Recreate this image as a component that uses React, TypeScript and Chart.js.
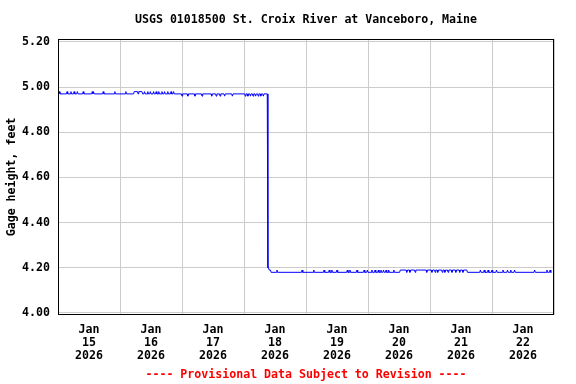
import React, { useEffect, useRef } from 'react';
import { Chart, registerables } from 'chart.js';

Chart.register(...registerables);

// ---- text ----
const TITLE = 'USGS 01018500 St. Croix River at Vanceboro, Maine';
const Y_TITLE = 'Gage height, feet';
const FOOTER = '---- Provisional Data Subject to Revision ----';
const MONTH = 'Jan';
const YEAR = '2026';
const DAY_LABELS = ['15', '16', '17', '18', '19', '20', '21', '22'];

// ---- axes ----
const Y_TICKS = [4.0, 4.2, 4.4, 4.6, 4.8, 5.0, 5.2];
const X_TICK_HOURS = [0, 12, 24, 36, 48, 60, 72, 84, 96, 108, 120, 132, 144, 156, 168, 180, 192];
const Y_MIN = 3.991;
const Y_MAX = 5.2134;
const X_MIN = 0;
const X_MAX = 192;

// ---- data: [hours since Jan 15 00:00, gage height ft] ----
const readingsJan15_16: [number, number][] = [
  [0, 4.97], [0.25, 4.97], [0.5, 4.98], [0.75, 4.97],
  [3.25, 4.97], [3.5, 4.98], [3.75, 4.97],
  [4.75, 4.97], [5, 4.98], [5.25, 4.97],
  [6, 4.97], [6.25, 4.98], [6.5, 4.97],
  [7.25, 4.97], [7.5, 4.98], [7.75, 4.97],
  [9.5, 4.97], [9.75, 4.98], [10, 4.97],
  [13, 4.97], [13.25, 4.98], [13.5, 4.97], [13.75, 4.98], [14, 4.97],
  [17.25, 4.97], [17.5, 4.98], [17.75, 4.97],
  [21.75, 4.97], [22, 4.98], [22.25, 4.97],
  [26, 4.97], [26.25, 4.98], [26.5, 4.97],
  [29.25, 4.97], [29.5, 4.98], [30.75, 4.98], [31, 4.97], [31.25, 4.98], [32.5, 4.98], [32.75, 4.97],
  [33.25, 4.97], [33.5, 4.98], [33.75, 4.97],
  [34.5, 4.97], [34.75, 4.98], [35, 4.97],
  [35.5, 4.97], [35.75, 4.98], [36, 4.97],
  [36.75, 4.97], [37, 4.98], [37.25, 4.97],
  [37.75, 4.97], [38, 4.98], [38.25, 4.97],
  [38.75, 4.97], [39, 4.98], [39.25, 4.97],
  [40, 4.97], [40.25, 4.98], [40.5, 4.97],
  [41, 4.97], [41.25, 4.98], [41.5, 4.97],
  [42.25, 4.97], [42.5, 4.98], [42.75, 4.97],
  [43.5, 4.97], [43.75, 4.98], [44, 4.97],
  [44.5, 4.97], [44.75, 4.98], [45, 4.97],
  [47.75, 4.97],
];

const readingsJan17_18: [number, number][] = [
  [48, 4.96], [48.25, 4.97],
  [50, 4.97], [50.25, 4.96], [50.5, 4.97],
  [52.75, 4.97], [53, 4.96], [53.25, 4.97],
  [55.5, 4.97], [55.75, 4.96], [56, 4.97],
  [59.25, 4.97], [59.5, 4.96], [59.75, 4.97],
  [61, 4.97], [61.25, 4.96], [61.5, 4.97],
  [62.5, 4.97], [62.75, 4.96], [63, 4.97],
  [64.25, 4.97], [64.5, 4.96], [64.75, 4.97],
  [67.25, 4.97], [67.5, 4.96], [67.75, 4.97],
  [72.25, 4.97], [72.5, 4.96], [72.75, 4.97],
  [73.25, 4.97], [73.5, 4.96], [73.75, 4.97],
  [74.25, 4.97], [74.5, 4.96], [74.75, 4.97],
  [75.25, 4.97], [75.5, 4.96], [75.75, 4.97],
  [76.25, 4.97], [76.5, 4.96], [76.75, 4.97],
  [77.25, 4.97], [77.5, 4.96], [77.75, 4.97],
  [78.25, 4.97], [78.5, 4.96], [78.75, 4.97],
  [79.25, 4.97], [79.5, 4.96], [79.75, 4.97],
  [81, 4.97],
  [81.25, 4.2], [81.5, 4.2], [81.75, 4.19], [82.25, 4.19], [82.5, 4.18],
  [84.5, 4.18], [84.75, 4.19], [85, 4.18],
  [94.25, 4.18], [94.5, 4.19], [94.75, 4.18],
];

const readingsJan19_20: [number, number][] = [
  [98.75, 4.18], [99, 4.19], [99.25, 4.18],
  [102.75, 4.18], [103, 4.19], [103.25, 4.18],
  [104.75, 4.18], [105, 4.19], [105.25, 4.18],
  [105.75, 4.18], [106, 4.19], [106.25, 4.18],
  [107.75, 4.18], [108, 4.19], [108.25, 4.18],
  [111.75, 4.18], [112, 4.19], [112.25, 4.18],
  [112.75, 4.18], [113, 4.19], [113.25, 4.18],
  [115.5, 4.18], [115.75, 4.19], [116, 4.18],
  [118.25, 4.18], [118.5, 4.19], [118.75, 4.18],
  [119.5, 4.18], [119.75, 4.19], [120, 4.18],
  [121.25, 4.18], [121.5, 4.19], [121.75, 4.18],
  [122.5, 4.18], [122.75, 4.19], [123, 4.18],
  [123.75, 4.18], [124, 4.19], [124.25, 4.18],
  [124.75, 4.18], [125, 4.19], [125.25, 4.18],
  [125.75, 4.18], [126, 4.19], [126.25, 4.18],
  [126.75, 4.18], [127, 4.19], [127.25, 4.18],
  [127.75, 4.18], [128, 4.19], [128.25, 4.18],
  [129.75, 4.18], [130, 4.19], [130.25, 4.18],
  [132.25, 4.18], [132.5, 4.19],
  [134.75, 4.19], [135, 4.18], [135.25, 4.19],
  [136, 4.19], [136.25, 4.18], [136.5, 4.19],
  [138, 4.19], [138.25, 4.18], [138.5, 4.19],
  [142.5, 4.19], [142.75, 4.18], [143, 4.19],
];

const readingsJan21_22: [number, number][] = [
  [144.5, 4.19], [144.75, 4.18], [145, 4.19],
  [145.75, 4.19], [146, 4.18], [146.25, 4.19],
  [146.75, 4.19], [147, 4.18], [147.25, 4.19],
  [148.5, 4.19], [148.75, 4.18], [149, 4.19],
  [149.5, 4.19], [149.75, 4.18], [150, 4.19],
  [150.75, 4.19], [151, 4.18], [151.25, 4.19],
  [152.25, 4.19], [152.5, 4.18], [152.75, 4.19],
  [153.75, 4.19], [154, 4.18], [154.25, 4.19],
  [155.25, 4.19], [155.5, 4.18], [155.75, 4.19],
  [156.5, 4.19], [156.75, 4.18], [157, 4.19],
  [158.25, 4.19], [158.5, 4.18],
  [163.25, 4.18], [163.5, 4.19], [163.75, 4.18],
  [164.75, 4.18], [165, 4.19], [165.25, 4.18],
  [166.25, 4.18], [166.5, 4.19], [166.75, 4.18],
  [167.75, 4.18], [168, 4.19], [168.25, 4.18],
  [169.5, 4.18], [169.75, 4.19], [170, 4.18],
  [172, 4.18], [172.25, 4.19], [172.5, 4.18],
  [173.75, 4.18], [174, 4.19], [174.25, 4.18],
  [175, 4.18], [175.25, 4.19], [175.5, 4.18],
  [176.5, 4.18], [176.75, 4.19], [177, 4.18],
  [184.25, 4.18], [184.5, 4.19], [184.75, 4.18],
  [189, 4.18], [189.25, 4.19], [189.5, 4.18],
  [190.25, 4.18], [190.5, 4.19], [190.75, 4.18],
  [191, 4.18],
];

const FONT_FAMILY = '"DejaVu Sans Mono", monospace';

const framePlugin = {
  id: 'frame',
  afterDraw(chart: any) {
    const { ctx, chartArea } = chart;
    const l = Math.round(chartArea.left) + 0.5;
    const t = Math.round(chartArea.top) + 0.5;
    const r = Math.round(chartArea.right) - 0.5;
    const b = Math.round(chartArea.bottom) - 0.5;
    ctx.save();
    ctx.strokeStyle = '#000000';
    ctx.lineWidth = 1;
    ctx.strokeRect(l, t, r - l, b - t);
    ctx.restore();
  },
};

export default function App() {
  const ref = useRef<HTMLCanvasElement | null>(null);

  useEffect(() => {
    if (!ref.current) return;
    const points = [...readingsJan15_16, ...readingsJan17_18, ...readingsJan19_20, ...readingsJan21_22].map(
      ([x, y]) => ({ x, y })
    );
    const font = { family: FONT_FAMILY, size: 11.6, weight: 'bold' as const, lineHeight: 1.2 };
    const chart = new Chart(ref.current, {
      type: 'line',
      data: {
        datasets: [
          {
            data: points,
            borderColor: '#0000ff',
            borderWidth: 1,
            pointRadius: 0,
            tension: 0,
            fill: false,
          },
        ],
      },
      options: {
        animation: false,
        responsive: false,
        devicePixelRatio: 1,
        layout: { padding: { left: 0, right: 22, top: 0, bottom: 0 } },
        plugins: {
          legend: { display: false },
          tooltip: { enabled: false },
          title: {
            display: true,
            fullSize: false,
            text: TITLE,
            color: '#000000',
            font,
            padding: { top: 13, bottom: 12 },
          },
          subtitle: {
            display: true,
            fullSize: false,
            position: 'bottom',
            text: FOOTER,
            color: '#ff0000',
            font,
            padding: { top: 5, bottom: 2 },
          },
        },
        scales: {
          x: {
            type: 'linear',
            min: X_MIN,
            max: X_MAX,
            afterBuildTicks: (s: any) => {
              s.ticks = X_TICK_HOURS.map((v) => ({ value: v }));
            },
            afterFit: (s: any) => {
              s.height = 48.08;
            },
            ticks: {
              autoSkip: false,
              maxRotation: 0,
              minRotation: 0,
              padding: 8.5,
              color: '#000000',
              font: { family: FONT_FAMILY, size: 11.6, weight: 'bold', lineHeight: 1.12 },
              callback: (v: any) => {
                const i = (Number(v) - 12) / 24;
                if (Number.isInteger(i) && i >= 0 && i < DAY_LABELS.length) {
                  return [MONTH, DAY_LABELS[i], YEAR];
                }
                return '';
              },
            },
            grid: {
              drawTicks: false,
              lineWidth: 1,
              color: (c: any) =>
                c.tick && c.tick.value % 24 === 0 ? '#cccccc' : 'rgba(0,0,0,0)',
            },
            border: { display: false },
          },
          y: {
            type: 'linear',
            min: Y_MIN,
            max: Y_MAX,
            afterBuildTicks: (s: any) => {
              s.ticks = Y_TICKS.map((v) => ({ value: v }));
            },
            afterFit: (s: any) => {
              s.width = 58;
            },
            ticks: {
              padding: 8,
              color: '#000000',
              font,
              callback: (v: any) => Number(v).toFixed(2),
            },
            grid: {
              drawTicks: false,
              lineWidth: 1,
              color: '#cccccc',
            },
            border: { display: false },
            title: {
              display: true,
              text: Y_TITLE,
              color: '#000000',
              font,
              padding: { top: 5, bottom: 0 },
            },
          },
        },
      },
      plugins: [framePlugin],
    });
    return () => chart.destroy();
  }, []);

  return (
    <div style={{ position: 'absolute', left: 0, top: 0, width: 576, height: 384, background: '#ffffff' }}>
      <canvas ref={ref} width={576} height={384} style={{ display: 'block' }} />
    </div>
  );
}
